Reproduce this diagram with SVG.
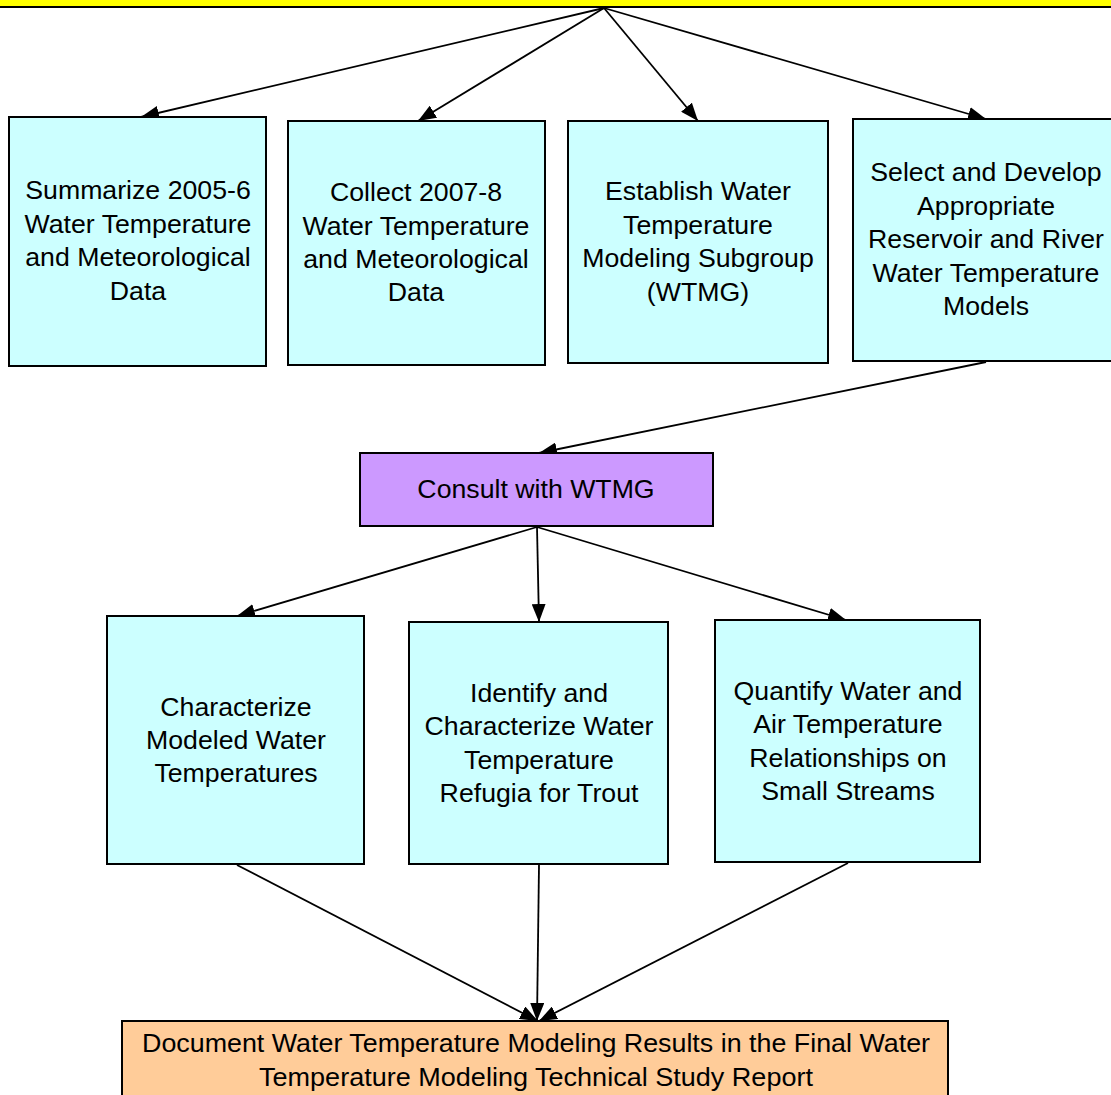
<svg xmlns="http://www.w3.org/2000/svg" width="1111" height="1095" viewBox="0 0 1111 1095">
<defs>
<style>
.box{fill:#ccffff;stroke:#000;stroke-width:2}
.t{font-family:"Liberation Sans",Arial,sans-serif;font-size:26.7px;fill:#000;text-anchor:middle}
.c{stroke:#000;stroke-width:1.8;fill:none}
.a{marker-end:url(#ah)}
</style>
<marker id="ah" markerUnits="userSpaceOnUse" markerWidth="20" markerHeight="14" refX="18" refY="7" orient="auto">
<path d="M0,0 L18,7 L0,14 Z" fill="#000"/>
</marker>
</defs>
<rect width="1111" height="1095" fill="#fff"/>
<g id="top">
<rect x="-2" y="-40" width="1120" height="47" fill="#ffff00" stroke="#000" stroke-width="2"/>
</g>
<g id="connectors">
<line class="c a" x1="604" y1="8" x2="141" y2="117"/>
<line class="c a" x1="604" y1="8" x2="418" y2="121"/>
<line class="c a" x1="604" y1="8" x2="698" y2="121"/>
<line class="c a" x1="604" y1="8" x2="986" y2="119"/>
<line class="c a" x1="986" y1="362" x2="539" y2="453"/>
<line class="c a" x1="537" y1="527" x2="237" y2="616"/>
<line class="c a" x1="537" y1="527" x2="539" y2="622"/>
<line class="c a" x1="537" y1="527" x2="846" y2="620"/>
<line class="c a" x1="237" y1="865" x2="538" y2="1021"/>
<line class="c a" x1="539" y1="865" x2="537" y2="1021"/>
<line class="c a" x1="848" y1="863" x2="539" y2="1021"/>
</g>
<g id="n1">
<rect class="box" x="9" y="117" width="257" height="249"/>
<text class="t" x="138" y="199">Summarize 2005-6</text>
<text class="t" x="138" y="233">Water Temperature</text>
<text class="t" x="138" y="266">and Meteorological</text>
<text class="t" x="138" y="300">Data</text>
</g>
<g id="n2">
<rect class="box" x="288" y="121" width="257" height="244"/>
<text class="t" x="416" y="201">Collect 2007-8</text>
<text class="t" x="416" y="235">Water Temperature</text>
<text class="t" x="416" y="268">and Meteorological</text>
<text class="t" x="416" y="301">Data</text>
</g>
<g id="n3">
<rect class="box" x="568" y="121" width="260" height="242"/>
<text class="t" x="698" y="200">Establish Water</text>
<text class="t" x="698" y="234">Temperature</text>
<text class="t" x="698" y="267">Modeling Subgroup</text>
<text class="t" x="698" y="301">(WTMG)</text>
</g>
<g id="n4">
<rect class="box" x="853" y="119" width="268" height="242"/>
<text class="t" x="986" y="181">Select and Develop</text>
<text class="t" x="986" y="215">Appropriate</text>
<text class="t" x="986" y="248">Reservoir and River</text>
<text class="t" x="986" y="282">Water Temperature</text>
<text class="t" x="986" y="315">Models</text>
</g>
<g id="consult">
<rect x="360" y="453" width="353" height="73" fill="#cc99ff" stroke="#000" stroke-width="2"/>
<text class="t" x="536" y="498">Consult with WTMG</text>
</g>
<g id="n5">
<rect class="box" x="107" y="616" width="257" height="248"/>
<text class="t" x="236" y="716">Characterize</text>
<text class="t" x="236" y="749">Modeled Water</text>
<text class="t" x="236" y="782">Temperatures</text>
</g>
<g id="n6">
<rect class="box" x="409" y="622" width="259" height="242"/>
<text class="t" x="539" y="702">Identify and</text>
<text class="t" x="539" y="735">Characterize Water</text>
<text class="t" x="539" y="769">Temperature</text>
<text class="t" x="539" y="802">Refugia for Trout</text>
</g>
<g id="n7">
<rect class="box" x="715" y="620" width="265" height="242"/>
<text class="t" x="848" y="700">Quantify Water and</text>
<text class="t" x="848" y="733">Air Temperature</text>
<text class="t" x="848" y="767">Relationships on</text>
<text class="t" x="848" y="800">Small Streams</text>
</g>
<g id="final">
<rect x="122" y="1021" width="826" height="90" fill="#ffcc99" stroke="#000" stroke-width="2"/>
<text class="t" x="536" y="1052" textLength="788" lengthAdjust="spacingAndGlyphs">Document Water Temperature Modeling Results in the Final Water</text>
<text class="t" x="536" y="1086" textLength="554" lengthAdjust="spacingAndGlyphs">Temperature Modeling Technical Study Report</text>
</g>
</svg>
